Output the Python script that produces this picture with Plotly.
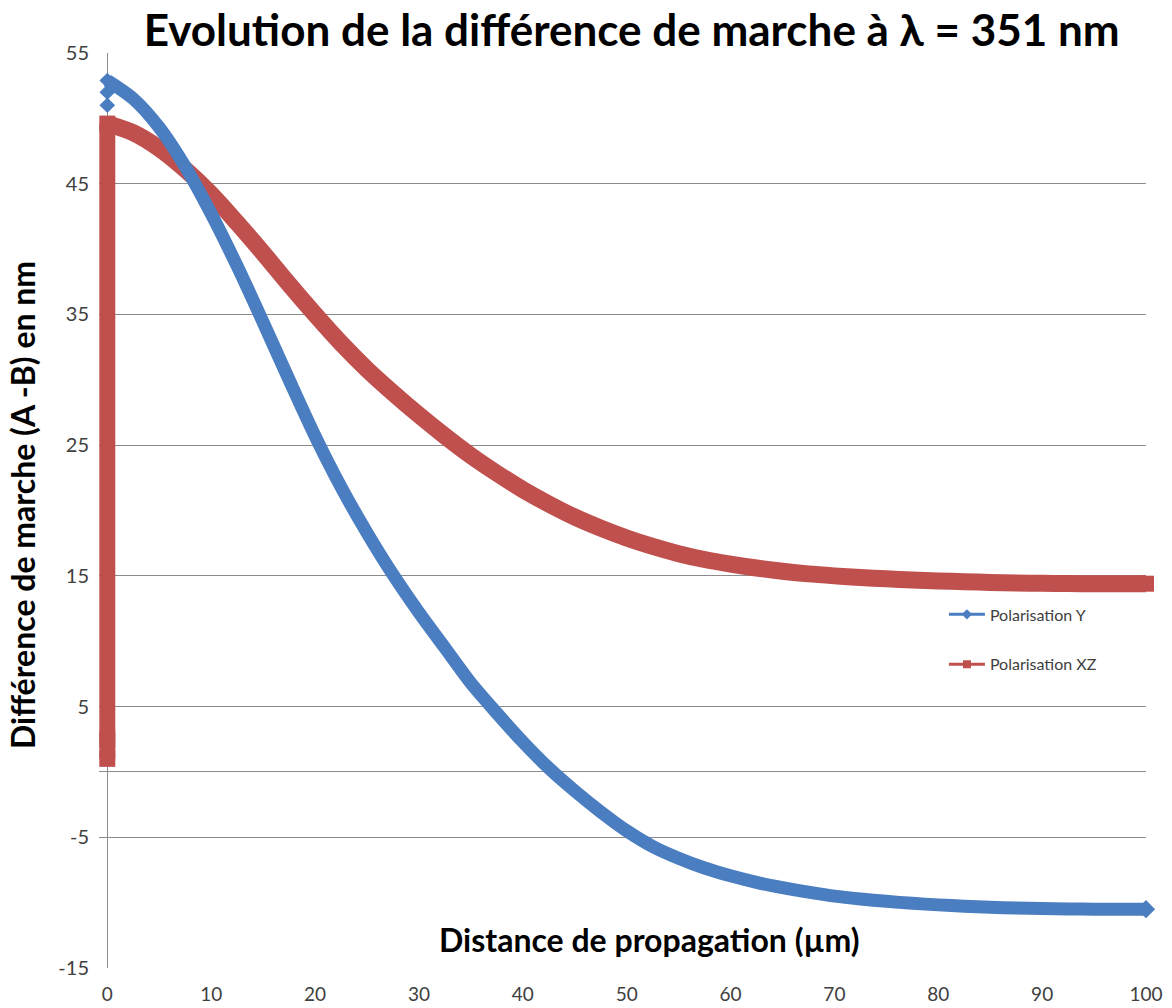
import plotly.graph_objects as go

# Propagation distance (µm) sampled along the curves
x_um = [0, 2.5, 5, 7.5, 10, 12.5, 15, 17.5, 20, 22.5, 25, 27.5, 30, 32.5, 35,
        37.5, 40, 42.5, 45, 47.5, 50, 52.5, 55, 57.5, 60, 62.5, 65, 67.5, 70,
        72.5, 75, 77.5, 80, 82.5, 85, 87.5, 90, 92.5, 95, 97.5, 100]

# Path difference (A - B) in nm, polarisation Y
pol_y = [52.9, 51.5, 49.3, 46.3, 42.7, 38.7, 34.4, 30.0, 25.7, 21.8, 18.3, 15.1,
         12.2, 9.5, 6.8, 4.5, 2.3, 0.3, -1.45, -3.05, -4.5, -5.7, -6.6, -7.35,
         -7.95, -8.45, -8.85, -9.2, -9.5, -9.72, -9.9, -10.05, -10.17, -10.27,
         -10.35, -10.41, -10.45, -10.48, -10.5, -10.5, -10.5]

# Path difference (A - B) in nm, polarisation XZ
pol_xz = [49.6, 48.9, 47.7, 46.1, 44.2, 42.0, 39.7, 37.3, 35.0, 32.8, 30.8, 29.0,
          27.3, 25.7, 24.2, 22.85, 21.6, 20.5, 19.5, 18.65, 17.9, 17.25, 16.7,
          16.25, 15.9, 15.6, 15.35, 15.15, 15.0, 14.87, 14.77, 14.68, 14.61,
          14.55, 14.5, 14.46, 14.43, 14.41, 14.4, 14.4, 14.4]

# Start-up points recorded at the entrance (x = 0)
start_x_y = [0, 0, 0]
start_pol_y = [51.0, 52.0, 52.9]
start_x_xz = [0, 0, 0]
start_pol_xz = [1.0, 2.5, 49.6]

y_ticks = [-15, -5, 5, 15, 25, 35, 45, 55]
y_labels = ["-15", "-5", "5", "15", "25", "35", "45", "55"]
x_ticks = [0, 10, 20, 30, 40, 50, 60, 70, 80, 90, 100]

BLUE = "#4A7EC1"
RED = "#C0504D"
GRID = "#8C8C8C"
TXT = "#404040"
FONT = "Lato"
X_LEFT = -0.8  # small room left of x = 0 so the thick entrance band is not clipped

fig = go.Figure()

# Polarisation XZ: vertical rise at the entrance, then the decaying curve
fig.add_trace(go.Scatter(x=start_x_xz, y=start_pol_xz, mode="lines+markers",
                         line=dict(color=RED, width=16), cliponaxis=False,
                         marker=dict(symbol="square", size=16, color=RED),
                         showlegend=False, hoverinfo="skip"))
fig.add_trace(go.Scatter(x=x_um, y=pol_xz, mode="lines",
                         line=dict(color=RED, width=17, shape="spline", smoothing=0.8),
                         showlegend=False, name="Polarisation XZ"))
fig.add_trace(go.Scatter(x=x_um[-1:], y=pol_xz[-1:], mode="markers", cliponaxis=False,
                         marker=dict(symbol="square", size=16, color=RED),
                         showlegend=False, hoverinfo="skip"))

# Polarisation Y
fig.add_trace(go.Scatter(x=start_x_y, y=start_pol_y, mode="markers", cliponaxis=False,
                         marker=dict(symbol="diamond", size=12, color=BLUE),
                         showlegend=False, hoverinfo="skip"))
fig.add_trace(go.Scatter(x=x_um, y=pol_y, mode="lines",
                         line=dict(color=BLUE, width=13, shape="spline", smoothing=0.8),
                         showlegend=False, name="Polarisation Y"))
fig.add_trace(go.Scatter(x=x_um[-1:], y=pol_y[-1:], mode="markers", cliponaxis=False,
                         marker=dict(symbol="diamond", size=14, color=BLUE),
                         showlegend=False, hoverinfo="skip"))

# Legend entries with thin lines and small markers
fig.add_trace(go.Scatter(x=[None], y=[None], mode="lines+markers", name="Polarisation Y",
                         legendgroup="y", line=dict(color=BLUE, width=3),
                         marker=dict(symbol="diamond", size=8, color=BLUE)))
fig.add_trace(go.Scatter(x=[None], y=[None], mode="lines+markers", name="Polarisation XZ",
                         legendgroup="xz", line=dict(color=RED, width=3),
                         marker=dict(symbol="square", size=8, color=RED)))

fig.update_layout(
    width=1172, height=1008,
    margin=dict(l=99, r=26, t=53, b=40),
    paper_bgcolor="white", plot_bgcolor="white",
    font=dict(family=FONT, color=TXT),
    title=dict(text="<b>Evolution de la différence de marche à λ = 351 nm</b>",
               x=0.539, xanchor="center", y=0.970, yanchor="middle",
               font=dict(family=FONT, size=44, color="#000000")),
    xaxis=dict(range=[X_LEFT, 100], tickvals=x_ticks, showgrid=False, automargin=False,
               zeroline=True, zerolinecolor=GRID, zerolinewidth=1,
               showline=False, ticks="", ticklabelstandoff=13,
               tickfont=dict(size=19, color=TXT, family=FONT)),
    yaxis=dict(range=[-15, 55], tickvals=y_ticks, ticktext=y_labels, showgrid=True,
               automargin=False, gridcolor=GRID, gridwidth=1, zeroline=True,
               zerolinecolor=GRID, zerolinewidth=1, showline=False, ticks="",
               ticklabelstandoff=9, tickfont=dict(size=20, color=TXT, family=FONT)),
    legend=dict(x=0.807, y=0.405, xanchor="left", yanchor="top",
                bgcolor="rgba(0,0,0,0)", tracegroupgap=26, itemwidth=36,
                font=dict(size=16, color=TXT, family=FONT)),
    shapes=[dict(type="rect", xref="x", yref="paper", x0=X_LEFT, x1=-0.03, y0=0, y1=1,
                 fillcolor="white", line=dict(width=0), layer="between")],
    annotations=[
        dict(text="<b>Distance de propagation (µm)</b>", xref="paper", yref="paper",
             x=0.526, y=0.031, xanchor="center", yanchor="middle", showarrow=False,
             font=dict(size=32, color="#000000", family=FONT)),
        dict(text="<b>Différence de marche (A -B) en nm</b>", xref="paper", yref="paper",
             x=-0.0735, y=0.506, xanchor="center", yanchor="middle", showarrow=False,
             textangle=-90, font=dict(size=32, color="#000000", family=FONT)),
    ],
)

fig.write_html("out.html")
